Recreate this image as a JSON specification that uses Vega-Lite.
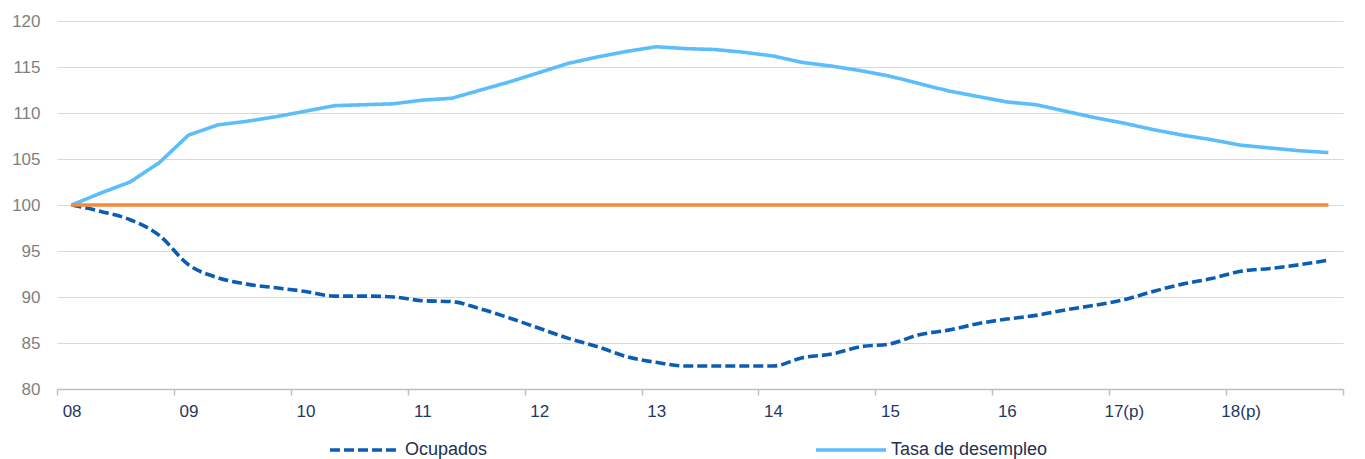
{
  "$schema": "https://vega.github.io/schema/vega-lite/v6.json",
  "width": 1286,
  "height": 368,
  "autosize": {"type": "none"},
  "padding": {"left": 57, "top": 21, "right": 22, "bottom": 70},
  "background": "white",
  "config": {
    "view": {"stroke": null},
    "font": "Liberation Sans",
    "legend": {
      "orient": "none",
      "legendX": 271,
      "legendY": 392,
      "direction": "horizontal",
      "symbolType": "stroke",
      "symbolSize": 4900,
      "symbolStrokeWidth": 3.5,
      "labelFontSize": 18,
      "labelColor": "#1F3050",
      "labelFont": "Liberation Sans",
      "columnPadding": 321,
      "labelOffset": 3,
      "labelLimit": 300,
      "title": null
    }
  },
  "data": {
    "values": [
      {"t": 0, "Ocupados": 100.0, "Tasa de desempleo": 100.0, "Base": 100},
      {"t": 1, "Ocupados": 99.3, "Tasa de desempleo": 101.3, "Base": 100},
      {"t": 2, "Ocupados": 98.4, "Tasa de desempleo": 102.5, "Base": 100},
      {"t": 3, "Ocupados": 96.7, "Tasa de desempleo": 104.6, "Base": 100},
      {"t": 4, "Ocupados": 93.5, "Tasa de desempleo": 107.6, "Base": 100},
      {"t": 5, "Ocupados": 92.1, "Tasa de desempleo": 108.7, "Base": 100},
      {"t": 6, "Ocupados": 91.4, "Tasa de desempleo": 109.1, "Base": 100},
      {"t": 7, "Ocupados": 91.0, "Tasa de desempleo": 109.6, "Base": 100},
      {"t": 8, "Ocupados": 90.6, "Tasa de desempleo": 110.2, "Base": 100},
      {"t": 9, "Ocupados": 90.1, "Tasa de desempleo": 110.8, "Base": 100},
      {"t": 10, "Ocupados": 90.1, "Tasa de desempleo": 110.9, "Base": 100},
      {"t": 11, "Ocupados": 90.0, "Tasa de desempleo": 111.0, "Base": 100},
      {"t": 12, "Ocupados": 89.6, "Tasa de desempleo": 111.4, "Base": 100},
      {"t": 13, "Ocupados": 89.5, "Tasa de desempleo": 111.6, "Base": 100},
      {"t": 14, "Ocupados": 88.7, "Tasa de desempleo": 112.5, "Base": 100},
      {"t": 15, "Ocupados": 87.7, "Tasa de desempleo": 113.4, "Base": 100},
      {"t": 16, "Ocupados": 86.6, "Tasa de desempleo": 114.4, "Base": 100},
      {"t": 17, "Ocupados": 85.5, "Tasa de desempleo": 115.4, "Base": 100},
      {"t": 18, "Ocupados": 84.6, "Tasa de desempleo": 116.1, "Base": 100},
      {"t": 19, "Ocupados": 83.5, "Tasa de desempleo": 116.7, "Base": 100},
      {"t": 20, "Ocupados": 82.9, "Tasa de desempleo": 117.2, "Base": 100},
      {"t": 21, "Ocupados": 82.5, "Tasa de desempleo": 117.0, "Base": 100},
      {"t": 22, "Ocupados": 82.5, "Tasa de desempleo": 116.9, "Base": 100},
      {"t": 23, "Ocupados": 82.5, "Tasa de desempleo": 116.6, "Base": 100},
      {"t": 24, "Ocupados": 82.5, "Tasa de desempleo": 116.2, "Base": 100},
      {"t": 25, "Ocupados": 83.4, "Tasa de desempleo": 115.5, "Base": 100},
      {"t": 26, "Ocupados": 83.8, "Tasa de desempleo": 115.1, "Base": 100},
      {"t": 27, "Ocupados": 84.6, "Tasa de desempleo": 114.6, "Base": 100},
      {"t": 28, "Ocupados": 84.9, "Tasa de desempleo": 114.0, "Base": 100},
      {"t": 29, "Ocupados": 85.9, "Tasa de desempleo": 113.2, "Base": 100},
      {"t": 30, "Ocupados": 86.4, "Tasa de desempleo": 112.4, "Base": 100},
      {"t": 31, "Ocupados": 87.1, "Tasa de desempleo": 111.8, "Base": 100},
      {"t": 32, "Ocupados": 87.6, "Tasa de desempleo": 111.2, "Base": 100},
      {"t": 33, "Ocupados": 88.0, "Tasa de desempleo": 110.9, "Base": 100},
      {"t": 34, "Ocupados": 88.6, "Tasa de desempleo": 110.2, "Base": 100},
      {"t": 35, "Ocupados": 89.1, "Tasa de desempleo": 109.5, "Base": 100},
      {"t": 36, "Ocupados": 89.7, "Tasa de desempleo": 108.9, "Base": 100},
      {"t": 37, "Ocupados": 90.6, "Tasa de desempleo": 108.2, "Base": 100},
      {"t": 38, "Ocupados": 91.4, "Tasa de desempleo": 107.6, "Base": 100},
      {"t": 39, "Ocupados": 92.0, "Tasa de desempleo": 107.1, "Base": 100},
      {"t": 40, "Ocupados": 92.8, "Tasa de desempleo": 106.5, "Base": 100},
      {"t": 41, "Ocupados": 93.1, "Tasa de desempleo": 106.2, "Base": 100},
      {"t": 42, "Ocupados": 93.5, "Tasa de desempleo": 105.9, "Base": 100},
      {"t": 43, "Ocupados": 94.0, "Tasa de desempleo": 105.7, "Base": 100}
    ]
  },
  "encoding": {
    "x": {
      "field": "t",
      "type": "quantitative",
      "scale": {"domain": [-0.5, 43.5], "nice": false, "zero": false},
      "axis": {
        "title": null,
        "values": [-0.5, 3.5, 7.5, 11.5, 15.5, 19.5, 23.5, 27.5, 31.5, 35.5, 39.5, 43.5],
        "labelExpr": "['08','09','10','11','12','13','14','15','16','17(p)','18(p)',''][round((datum.value+0.5)/4)]",
        "labelOffset": 14.6,
        "labelOverlap": false,
        "labelFlush": false,
        "labelBound": false,
        "grid": false,
        "domainColor": "#BFBFBF",
        "domainWidth": 1.5,
        "tickColor": "#BFBFBF",
        "tickWidth": 1.5,
        "tickSize": 6,
        "labelFontSize": 17,
        "labelFont": "Liberation Sans",
        "labelColor": "#1F3864",
        "labelPadding": 8
      }
    }
  },
  "layer": [
    {
      "transform": [
        {"fold": ["Ocupados", "Tasa de desempleo"], "as": ["serie", "valor"]},
        {"filter": "datum.serie == 'Ocupados'"}
      ],
      "mark": {"type": "line", "interpolate": "monotone", "strokeWidth": 3.6, "strokeCap": "butt"},
      "encoding": {
        "y": {
          "field": "valor",
          "type": "quantitative",
          "scale": {"domain": [80, 120], "nice": false, "zero": false},
          "axis": {
            "title": null,
            "values": [80, 85, 90, 95, 100, 105, 110, 115, 120],
            "grid": true,
            "gridColor": "#D9D9D9",
            "gridWidth": 1.2,
            "domain": false,
            "ticks": false,
            "labelFontSize": 17,
            "labelFont": "Liberation Sans",
            "labelColor": "#7F7F7F",
            "labelPadding": 17
          }
        },
        "color": {
          "field": "serie",
          "type": "nominal",
          "scale": {"domain": ["Ocupados", "Tasa de desempleo"], "range": ["#0B5DB4", "#5BBDFA"]},
          "legend": {"title": null}
        },
        "strokeDash": {
          "field": "serie",
          "type": "nominal",
          "scale": {"domain": ["Ocupados", "Tasa de desempleo"], "range": [[10, 4], [1, 0]]},
          "legend": {"title": null}
        }
      }
    },
    {
      "transform": [
        {"fold": ["Ocupados", "Tasa de desempleo"], "as": ["serie", "valor"]},
        {"filter": "datum.serie == 'Tasa de desempleo'"}
      ],
      "mark": {"type": "line", "interpolate": "linear", "strokeWidth": 3.6, "strokeCap": "butt", "strokeJoin": "round"},
      "encoding": {
        "y": {"field": "valor", "type": "quantitative"},
        "color": {"field": "serie", "type": "nominal", "legend": {"title": null}},
        "strokeDash": {"field": "serie", "type": "nominal", "legend": {"title": null}}
      }
    },
    {
      "mark": {"type": "line", "color": "#F58A3A", "strokeWidth": 3.6},
      "encoding": {
        "y": {"field": "Base", "type": "quantitative"}
      }
    }
  ]
}
